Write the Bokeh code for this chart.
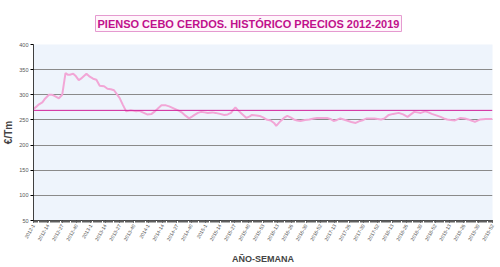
import math
from bokeh.plotting import figure
from bokeh.models import FixedTicker, Span, Range1d
from bokeh.embed import file_html
from bokeh.resources import INLINE

# Week index (0 = 2012-1, 416 = 2019-52) and price (€/Tm)
weeks = [0, 3, 5, 8, 10, 14, 17, 19, 23, 26, 29, 31, 33, 36, 38, 41, 43, 45, 48, 51,
         54, 57, 60, 64, 67, 70, 73, 76, 78, 81, 84, 88, 91, 93, 96, 99, 103, 107, 110, 113,
         116, 120, 123, 126, 129, 132, 135, 138, 141, 144, 146, 149, 152, 155, 158, 162, 165, 169, 173, 176,
         179, 181, 183, 185, 188, 191, 193, 196, 198, 202, 205, 208, 211, 215, 218, 220, 222, 224, 227, 230,
         233, 236, 239, 242, 246, 250, 254, 257, 261, 266, 269, 272, 275, 278, 281, 284, 288, 292, 296, 299,
         302, 306, 309, 312, 315, 318, 322, 326, 331, 335, 339, 342, 345, 348, 351, 355, 358, 361, 365, 369,
         372, 375, 378, 382, 385, 387, 391, 394, 398, 400, 403, 405, 410, 414, 416]
prices = [272, 277, 281, 285, 291, 300, 300, 298, 293, 300, 343, 340, 340, 342, 338, 329, 332, 336, 342, 336,
          332, 330, 318, 317, 312, 311, 309, 300, 294, 280, 267, 269, 268, 267, 268, 265, 261, 262, 267, 273,
          279, 279, 277, 274, 271, 268, 264, 258, 253, 257, 260, 264, 266, 265, 264, 265, 264, 262, 260, 261,
          264, 270, 275, 270, 264, 258, 254, 257, 260, 259, 258, 255, 251, 249, 244, 238, 243, 248, 254, 258,
          255, 251, 249, 248, 250, 251, 253, 254, 254, 254, 252, 248, 250, 253, 251, 249, 246, 244, 248, 250,
          253, 253, 253, 252, 251, 253, 260, 262, 264, 261, 256, 261, 266, 265, 264, 267, 265, 262, 259, 256,
          253, 251, 250, 249, 252, 254, 253, 251, 248, 246, 249, 251, 252, 252, 252]
average_price = 269

tick_labels = ["2012-1", "2012-14", "2012-27", "2012-40", "2013-1", "2013-14", "2013-27", "2013-40",
               "2014-1", "2014-14", "2014-27", "2014-40", "2015-1", "2015-14", "2015-27", "2015-40",
               "2015-53", "2016-13", "2016-26", "2016-39", "2016-52", "2017-13", "2017-26", "2017-39",
               "2017-52", "2018-13", "2018-26", "2018-39", "2018-52", "2019-13", "2019-26", "2019-39",
               "2019-52"]
tick_step = 13
n_weeks = 417
y_ticks = [50, 100, 150, 200, 250, 300, 350, 400]

p = figure(width=500, height=267, output_backend="svg", toolbar_location=None,
           x_range=Range1d(0, n_weeks - 1), y_range=Range1d(50, 400))
p.min_border_left = 30
p.min_border_right = 8
p.min_border_top = 44
p.min_border_bottom = 45
p.background_fill_color = "#EEF4FC"
p.border_fill_color = "white"
p.outline_line_color = None

p.title.text = "PIENSO CEBO CERDOS. HISTÓRICO PRECIOS 2012-2019"
p.title.align = "left"
p.title.text_color = "#C0108C"
p.title.text_font = "Liberation Sans"
p.title.text_font_size = "11px"
p.title.text_font_style = "bold"
p.title.background_fill_color = "#FFF6FB"
p.title.border_line_color = "#E59AD0"
p.title.padding = 2
p.title.offset = 62
p.title.standoff = 26

# line
p.line(weeks, prices, line_color="#F2A6D6", line_width=2)
p.add_layout(Span(location=average_price, dimension="width", line_color="#D0209A", line_width=1))

# axes
ticks = list(range(0, n_weeks, tick_step))
p.xaxis.ticker = FixedTicker(ticks=ticks, minor_ticks=list(range(n_weeks)))
p.xaxis.major_label_overrides = {t: l for t, l in zip(ticks, tick_labels)}
p.xaxis.major_label_orientation = math.pi / 3
p.xaxis.major_label_text_font_size = "5px"
p.xaxis.major_label_text_color = "#555555"
p.xaxis.major_label_standoff = 2
p.xaxis.axis_line_color = "#404040"
p.xaxis.major_tick_out = 2
p.xaxis.major_tick_in = 0
p.xaxis.minor_tick_out = 2
p.xaxis.minor_tick_in = 0
p.xaxis.minor_tick_line_color = "#606060"
p.xaxis.axis_label = "AÑO-SEMANA"
p.xaxis.axis_label_text_font = "Liberation Sans"
p.xaxis.axis_label_text_font_style = "bold"
p.xaxis.axis_label_text_font_size = "9px"
p.xaxis.axis_label_standoff = 9

p.yaxis.ticker = FixedTicker(ticks=y_ticks, minor_ticks=[])
p.yaxis.major_label_text_font_size = "5.5px"
p.yaxis.major_label_text_color = "#555555"
p.yaxis.major_label_standoff = 2
p.yaxis.axis_line_color = "#404040"
p.yaxis.major_tick_out = 3
p.yaxis.major_tick_in = 0
p.yaxis.axis_label = "€/Tm"
p.yaxis.axis_label_text_font = "Liberation Sans"
p.yaxis.axis_label_text_font_style = "bold"
p.yaxis.axis_label_text_font_size = "10px"
p.yaxis.axis_label_standoff = 2

p.xgrid.grid_line_color = None
p.ygrid.grid_line_color = "#8A8A8A"
p.ygrid.grid_line_width = 1

open("out.html", "w").write(file_html(p, INLINE))
